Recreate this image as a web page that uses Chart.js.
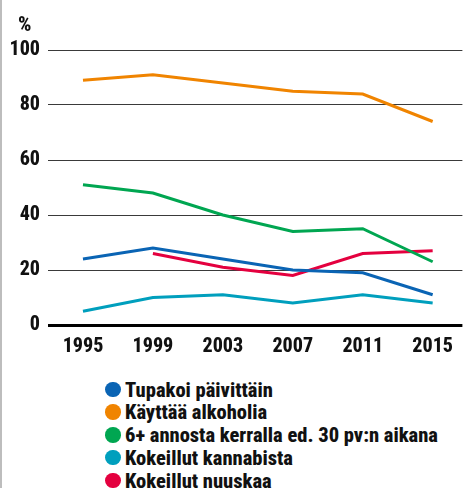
<!DOCTYPE html>
<html><head><meta charset="utf-8">
<script src="https://cdn.jsdelivr.net/npm/chart.js@4"></script>
<style>
html,body{margin:0;padding:0;background:#fff;}
body{width:463px;height:488px;position:relative;overflow:hidden;font-family:"Roboto Condensed","Roboto",sans-serif;font-weight:800;}
#edge{position:absolute;left:0;top:0;width:2px;height:488px;background:#bdbdbd;}
#pct{position:absolute;left:18px;top:14px;font-size:21px;line-height:21px;color:#111;}
#wrap{position:absolute;left:0;top:0;width:463px;height:360px;}
#legend{position:absolute;left:105px;top:378.5px;margin:0;padding:0;list-style:none;}
#legend li{position:relative;height:22.75px;line-height:22.75px;font-size:20.5px;letter-spacing:0px;color:#111;white-space:nowrap;padding-left:20px;}
#legend span{position:absolute;left:0;top:3.2px;width:15.5px;height:15.5px;border-radius:50%;}
</style></head>
<body>
<div id="edge"></div>
<div id="wrap"><canvas id="c" width="463" height="360"></canvas></div>
<div id="pct">%</div>
<ul id="legend"></ul>
<script>
const years = [1995, 1999, 2003, 2007, 2011, 2015];
const yTicks = [0, 20, 40, 60, 80, 100];
const seriesNames = ["Tupakoi päivittäin", "Käyttää alkoholia", "6+ annosta kerralla ed. 30 pv:n aikana", "Kokeillut kannabista", "Kokeillut nuuskaa"];
const tupakoi = [24, 28, 24, 20, 19, 11];
const alkoholi = [89, 91, 88, 85, 84, 74];
const humala = [51, 48, 40, 34, 35, 23];
const kannabis = [5, 10, 11, 8, 11, 8];
const nuuska = [null, 26, 21, 18, 26, 27];
const colors = ["#0a64b4", "#f08400", "#00a651", "#009fbd", "#e4003f"];

const values = [tupakoi, alkoholi, humala, kannabis, nuuska];
const datasets = values.map((v, i) => ({
  label: seriesNames[i],
  data: years.map((y, j) => ({x: y, y: v[j]})),
  borderColor: colors[i],
  backgroundColor: colors[i],
  borderWidth: 3,
  pointRadius: 0,
  tension: 0,
  spanGaps: false,
  fill: false
}));
const order = [1, 2, 0, 4, 3];
const ordered = order.map(i => datasets[i]);

const font = {family: '"Roboto Condensed",Roboto,sans-serif', weight: 800, size: 20};

new Chart(document.getElementById('c'), {
  type: 'line',
  data: {datasets: ordered},
  options: {
    responsive: false,
    animation: false,
    devicePixelRatio: 1,
    layout: {padding: {top: 50, right: 0, left: 0, bottom: 0}},
    plugins: {legend: {display: false}, tooltip: {enabled: false}},
    scales: {
      x: {
        type: 'linear', min: 1993, max: 2016.7,
        afterBuildTicks: s => { s.ticks = years.map(v => ({value: v})); },
        afterFit: s => { s.height = 35; },
        grid: {display: false, drawTicks: false},
        border: {display: false},
        ticks: {color: '#111', font: font, padding: 10, maxRotation: 0, autoSkip: false, callback: v => String(v)}
      },
      y: {
        min: 0, max: 100,
        afterBuildTicks: s => { s.ticks = yTicks.map(v => ({value: v})); },
        afterFit: s => { s.width = 48; },
        grid: {
          drawTicks: false,
          color: c => c.tick && c.tick.value === 0 ? '#000' : '#3a3a3a',
          lineWidth: c => c.tick && c.tick.value === 0 ? 3 : 1
        },
        border: {display: false},
        ticks: {color: '#111', font: font, padding: 8}
      }
    }
  }
});

const lg = document.getElementById('legend');
seriesNames.forEach((n, i) => {
  const li = document.createElement('li');
  const sp = document.createElement('span');
  sp.style.background = colors[i];
  li.appendChild(sp);
  li.appendChild(document.createTextNode(n));
  lg.appendChild(li);
});
</script>
</body></html>
